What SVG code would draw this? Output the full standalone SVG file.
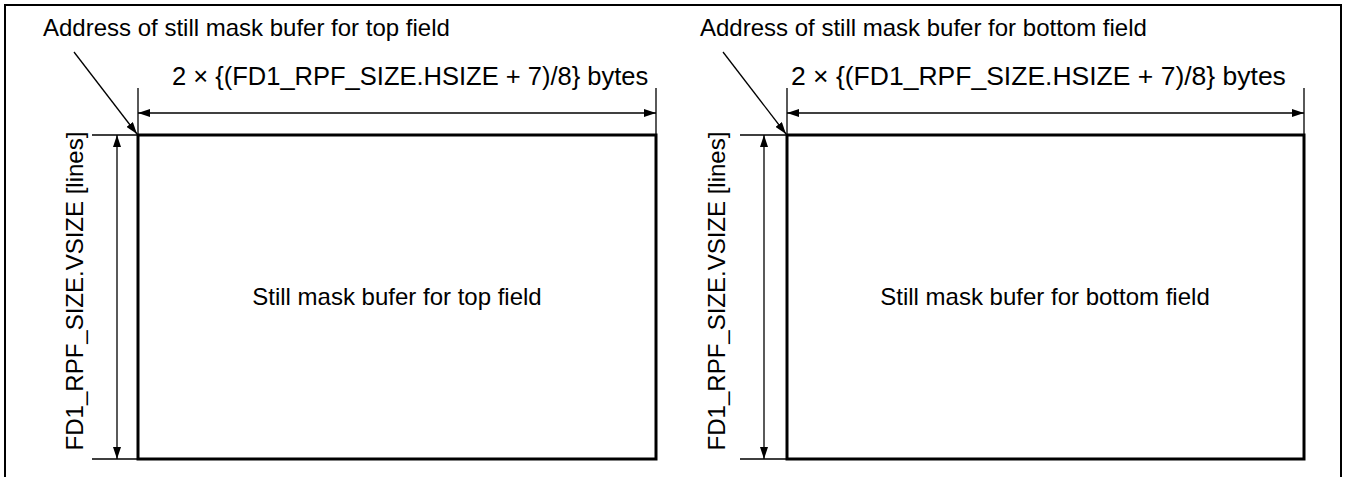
<svg xmlns="http://www.w3.org/2000/svg" width="1346" height="477" viewBox="0 0 1346 477">
<defs>
<marker id="ah" viewBox="0 0 12 8" refX="12" refY="4" markerWidth="12" markerHeight="8" markerUnits="userSpaceOnUse" orient="auto-start-reverse">
<path d="M0,0 L12,4 L0,8 Z" fill="#000"/>
</marker>
</defs>
<style>
text{font-family:"Liberation Sans",Arial,sans-serif;font-size:24px;fill:#000}
.dt{font-size:25.5px}
.box{fill:#fff;stroke:#000;stroke-width:3}
.thin{stroke:#000;stroke-width:1.3;fill:none}
.dim{stroke:#000;stroke-width:1.3;fill:none;marker-start:url(#ah);marker-end:url(#ah)}
.ptr{stroke:#000;stroke-width:1.3;fill:none;marker-end:url(#ah)}
</style>
<rect width="1346" height="477" fill="#fff"/>
<path d="M5,477 L5,5 L1341,5 L1341,477" fill="none" stroke="#000" stroke-width="2"/>

<g id="top-field">
<rect class="box" x="138" y="135" width="518" height="324"/>
<text x="397" y="305" text-anchor="middle">Still mask bufer for top field</text>
</g>
<g id="bottom-field">
<rect class="box" x="787" y="135" width="517" height="324"/>
<text x="1045" y="305" text-anchor="middle">Still mask bufer for bottom field</text>
</g>

<g id="labels">
<text x="43" y="36">Address of still mask bufer for top field</text>
<text x="700" y="36">Address of still mask bufer for bottom field</text>
<text class="dt" x="172" y="85">2 × {(FD1_RPF_SIZE.HSIZE + 7)/8} bytes</text>
<text class="dt" x="791" y="85" style="font-size:26.5px">2 × {(FD1_RPF_SIZE.HSIZE + 7)/8} bytes</text>
<text transform="translate(83,291) rotate(-90)" text-anchor="middle">FD1_RPF_SIZE.VSIZE [lines]</text>
<text transform="translate(725,291) rotate(-90)" text-anchor="middle">FD1_RPF_SIZE.VSIZE [lines]</text>
</g>

<g id="connectors">
<path class="thin" d="M138,88 V135 M656,88 V135 M92,135 H138 M92,459 H138"/>
<path class="thin" d="M787,88 V135 M1304,88 V135 M740,135 H787 M740,459 H787"/>
<line class="dim" x1="138" y1="113" x2="656" y2="113"/>
<line class="dim" x1="787" y1="113" x2="1304" y2="113"/>
<line class="dim" x1="117" y1="135" x2="117" y2="459"/>
<line class="dim" x1="764" y1="135" x2="764" y2="459"/>
<line class="ptr" x1="74" y1="52" x2="137" y2="134"/>
<line class="ptr" x1="723" y1="52" x2="786" y2="134"/>
</g>
</svg>
